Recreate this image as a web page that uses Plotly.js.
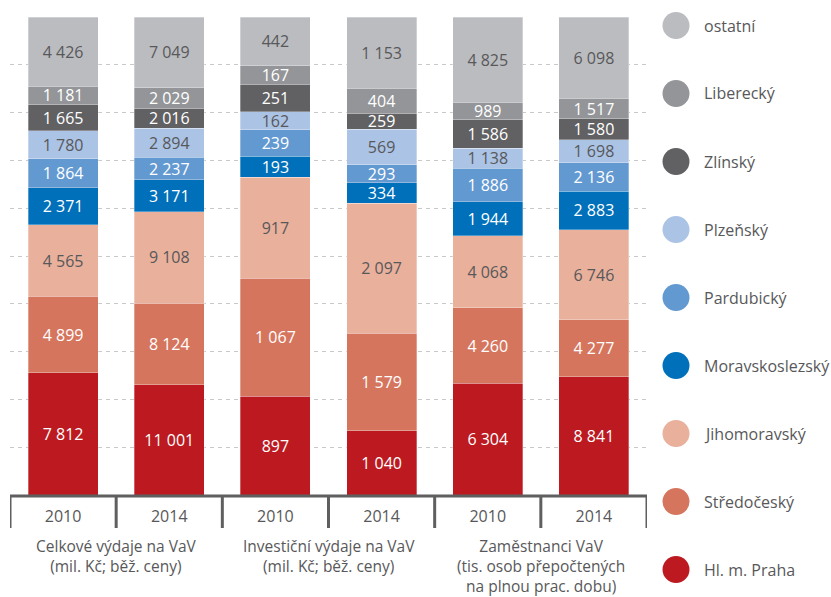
<!DOCTYPE html>
<html>
<head>
<meta charset="utf-8">
<script src="https://cdn.plot.ly/plotly-3.0.1.min.js"></script>
<style>html,body{margin:0;padding:0;background:#fff;}#chart{width:831px;height:597px;}</style>
</head>
<body>
<div id="chart"></div>
<script>
// ---- data ----
const years = ['2010', '2014', '2010', '2014', '2010', '2014'];
const groups = ['Celkové výdaje na VaV<br>(mil. Kč; běž. ceny)',
                'Investiční výdaje na VaV<br>(mil. Kč; běž. ceny)',
                'Zaměstnanci VaV<br>(tis. osob přepočtených<br>na plnou prac. dobu)'];
const regions = ['Hl. m. Praha', 'Středočeský', 'Jihomoravský', 'Moravskoslezský',
                 'Pardubický', 'Plzeňský', 'Zlínský', 'Liberecký', 'ostatní'];
const praha          = [7812, 11001, 897, 1040, 6304, 8841];
const stredocesky    = [4899, 8124, 1067, 1579, 4260, 4277];
const jihomoravsky   = [4565, 9108, 917, 2097, 4068, 6746];
const moravskoslezsky= [2371, 3171, 193, 334, 1944, 2883];
const pardubicky     = [1864, 2237, 239, 293, 1886, 2136];
const plzensky       = [1780, 2894, 162, 569, 1138, 1698];
const zlinsky        = [1665, 2016, 251, 259, 1586, 1580];
const liberecky      = [1181, 2029, 167, 404, 989, 1517];
const ostatni        = [4426, 7049, 442, 1153, 4825, 6098];
const series = [praha, stredocesky, jihomoravsky, moravskoslezsky, pardubicky,
                plzensky, zlinsky, liberecky, ostatni];

// ---- styles ----
const colors = ['#bc1a20', '#d6755e', '#e9b09c', '#0070ba', '#6399d1',
                '#abc3e5', '#616163', '#939598', '#bbbcc0'];
const grey = '#58585a';
const labelColors = ['#ffffff', '#ffffff', grey, '#ffffff', '#ffffff', grey, '#ffffff', '#ffffff', grey];
const FONT = '"Open Sans", "Noto Sans", sans-serif';

const xs = years.map((_, i) => i);
function fmt(v) {
  return String(v).replace(/\B(?=(\d{3})+(?!\d))/g, '\u00a0');
}

const traces = series.map((vals, k) => ({
  type: 'bar',
  name: regions[k],
  x: xs,
  y: vals,
  text: vals.map(fmt),
  textposition: 'inside',
  insidetextanchor: 'middle',
  textangle: 0,
  textfont: {family: FONT, size: 16, color: labelColors[k]},
  marker: {color: colors[k], line: {color: 'rgba(255,255,255,0.5)', width: 0.6}},
  hoverinfo: 'skip',
  showlegend: false
}));

// plot area geometry
const L = 10, R = 647, T = 17, B = 495;
const pw = R - L, ph = B - T;
const px2x = p => (p - L) / pw;
const px2y = p => (B - p) / ph;

const shapes = [];
const annotations = [];

// dividers under the axis
for (let i = 0; i <= years.length; i++) {
  shapes.push({type: 'line', xref: 'x', yref: 'paper', x0: i - 0.5, x1: i - 0.5,
               y0: px2y(496), y1: px2y(528), line: {color: '#5f5f5f', width: 3}});
}
shapes.push({type: 'line', xref: 'x', yref: 'paper', x0: -0.5, x1: years.length - 0.5,
             y0: px2y(496), y1: px2y(496), line: {color: '#5f5f5f', width: 3}});

// group labels
groups.forEach((g, i) => {
  annotations.push({xref: 'x', yref: 'paper', x: 2 * i + 0.5, y: px2y(534),
                    xanchor: 'center', yanchor: 'top', showarrow: false, text: g,
                    align: 'center', borderpad: 0,
                    font: {family: FONT, size: 15.5, color: grey}});
});

// custom legend (top: ostatní ... bottom: Praha)
const legendOrder = regions.map((_, k) => regions.length - 1 - k);
legendOrder.forEach((k, j) => {
  const cy = 25.5 + 68 * j;
  shapes.push({type: 'circle', xref: 'paper', yref: 'paper',
               xsizemode: 'pixel', ysizemode: 'pixel',
               xanchor: px2x(676), yanchor: px2y(cy),
               x0: -13.5, x1: 13.5, y0: -13.5, y1: 13.5,
               fillcolor: colors[k], line: {width: 0}});
  annotations.push({xref: 'paper', yref: 'paper', x: px2x(702), y: px2y(cy),
                    xanchor: 'left', yanchor: 'middle', showarrow: false,
                    text: regions[k], font: {family: FONT, size: 16, color: grey}});
});

const layout = {
  width: 831, height: 597,
  margin: {l: L, r: 831 - R, t: T, b: 597 - B, pad: 0},
  paper_bgcolor: '#ffffff', plot_bgcolor: '#ffffff',
  barmode: 'stack', barnorm: 'percent', bargap: 0.34,
  font: {family: FONT, color: grey},
  uniformtext: {mode: 'show', minsize: 16},
  xaxis: {
    range: [-0.5, years.length - 0.5],
    tickmode: 'array', tickvals: xs, ticktext: years,
    ticks: '', showgrid: false, zeroline: false, showline: false,
    tickfont: {family: FONT, size: 16, color: grey},
    ticklabelstandoff: 10, fixedrange: true
  },
  yaxis: {
    range: [0, 100], dtick: 10, showticklabels: false, ticks: '',
    showgrid: true, gridcolor: '#c9c9c9', griddash: '4px,4px', gridwidth: 1,
    zeroline: false, showline: false, fixedrange: true
  },
  shapes: shapes,
  annotations: annotations,
  showlegend: false
};

Plotly.newPlot('chart', traces, layout, {displayModeBar: false, staticPlot: true});
</script>
</body>
</html>
